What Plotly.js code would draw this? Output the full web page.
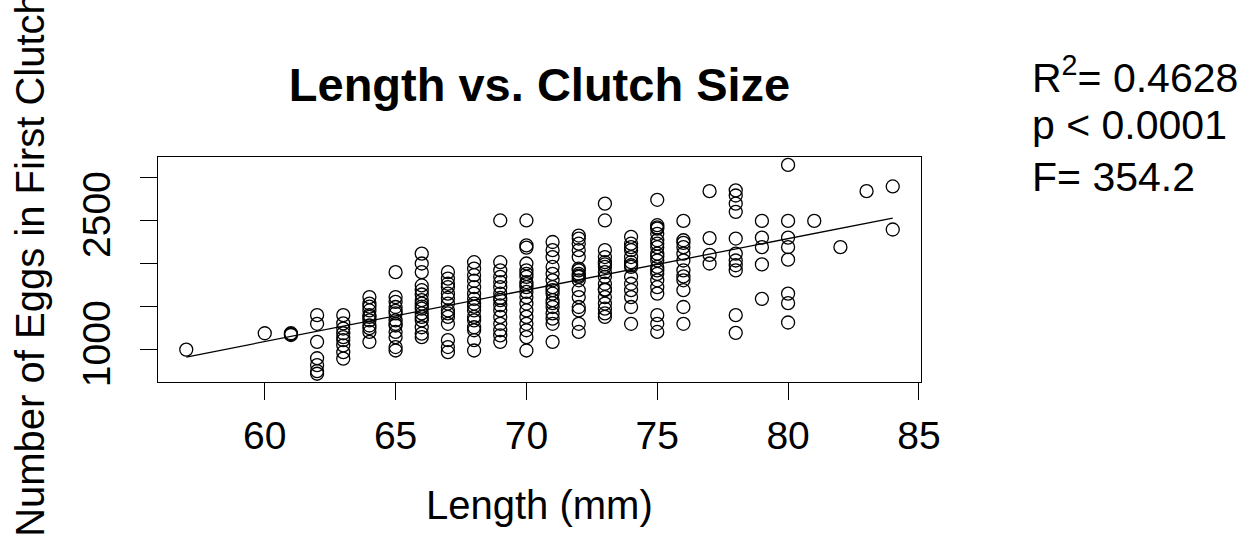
<!DOCTYPE html>
<html>
<head>
<meta charset="utf-8">
<script src="https://cdn.plot.ly/plotly-3.0.1.min.js"></script>
<style>html,body{margin:0;padding:0;background:#fff;}#chart{width:1248px;height:539px;}</style>
</head>
<body>
<div id="chart"></div>
<script>
// Length (mm) values present in the data
const lengthValues = [57, 60, 61, 62, 63, 64, 65, 66, 67, 68, 69, 70, 71, 72, 73, 74, 75, 76, 77, 78, 79, 80, 81, 82, 83, 84];
// Number of eggs in first clutch, one list per length value
const eggsAtLength = [
  [1000],
  [1190],
  [1190, 1170, 1180],
  [1400, 1300, 1090, 900, 820, 750, 720],
  [1400, 1305, 1245, 1190, 1145, 1110, 1050, 970, 895],
  [1610, 1535, 1455, 1400, 1340, 1280, 1205, 1090, 1500, 1380, 1250],
  [1900, 1610, 1555, 1495, 1420, 1340, 1280, 1205, 1145, 1030, 990, 1450, 1300],
  [2115, 2000, 1900, 1745, 1690, 1575, 1535, 1475, 1420, 1340, 1260, 1185, 1145, 1640, 1500, 1380],
  [1900, 1825, 1765, 1725, 1650, 1535, 1455, 1420, 1380, 1300, 1110, 1030, 970, 1600],
  [2015, 1940, 1865, 1725, 1650, 1590, 1535, 1455, 1380, 1340, 1260, 1225, 1110, 990, 1800, 1500],
  [2500, 2015, 1920, 1845, 1785, 1725, 1650, 1575, 1515, 1455, 1380, 1300, 1225, 1165, 1090, 1600],
  [2500, 2210, 2185, 2000, 1920, 1845, 1785, 1725, 1670, 1610, 1535, 1455, 1380, 1300, 1225, 1145, 990, 1880, 1760],
  [2250, 2155, 2075, 1960, 1880, 1805, 1725, 1650, 1575, 1495, 1420, 1300, 1090, 1690, 1540, 1360],
  [2325, 2290, 2230, 2155, 2075, 1940, 1880, 1845, 1805, 1690, 1610, 1495, 1455, 1300, 1205, 1920, 1860],
  [2695, 2500, 2155, 2075, 2015, 1960, 1900, 1845, 1765, 1690, 1610, 1535, 1475, 1420, 1380, 1990, 1700],
  [2310, 2230, 2155, 2075, 2015, 1960, 1845, 1765, 1690, 1610, 1495, 1300, 2190, 1980],
  [2740, 2445, 2405, 2345, 2270, 2190, 2115, 2035, 1960, 1880, 1805, 1725, 1650, 1400, 1300, 1205, 2420, 2230, 2080, 1920],
  [2495, 2270, 2190, 2115, 2035, 1920, 1805, 1690, 1495, 1300, 2240, 1850],
  [2840, 2295, 2100, 2000],
  [2850, 2790, 2695, 2600, 2290, 2115, 2035, 1980, 1920, 1400, 1195],
  [2495, 2300, 2190, 1990, 1590],
  [3145, 2495, 2300, 2190, 2045, 1650, 1540, 1315],
  [2495],
  [2190],
  [2840],
  [2895, 2395]
];
// fitted regression line end points
const fitLength = [57, 84];
const fitEggs = [914, 2528];
// axis ticks
const yTickVals = [1000, 1500, 2000, 2500, 3000];
const yTickText = ['1000', '', '', '2500', ''];
const xTickVals = [60, 65, 70, 75, 80, 85];
// statistics text
const statLines = ['R<sup>2</sup>= 0.4628', 'p &lt; 0.0001', 'F= 354.2'];

const xs = [], ys = [];
lengthValues.forEach((L, i) => {
  eggsAtLength[i].forEach(v => { xs.push(L); ys.push(v); });
});

const FONT = 'Liberation Sans, Arial, Helvetica, sans-serif';

const traces = [
  {
    x: xs, y: ys, type: 'scatter', mode: 'markers',
    marker: {symbol: 'circle-open', size: 13, color: 'black', line: {width: 1.3, color: 'black'}},
    hoverinfo: 'x+y'
  },
  {
    x: fitLength, y: fitEggs, type: 'scatter', mode: 'lines',
    line: {color: 'black', width: 1.3}
  }
];

const statY = [1.365, 1.143, 0.913];
const annotations = statLines.map((t, i) => ({
  text: t, xref: 'paper', yref: 'paper', x: 1.1429, y: statY[i],
  xanchor: 'left', yanchor: 'middle', showarrow: false,
  font: {family: FONT, size: 41, color: 'black'}
}));
annotations.push({
  text: 'Length (mm)', xref: 'paper', yref: 'paper', x: 0.5, y: -0.5467,
  xanchor: 'center', yanchor: 'middle', showarrow: false,
  font: {family: FONT, size: 40, color: 'black'}
});
annotations.push({
  text: 'Number of Eggs in First Clutch', xref: 'paper', yref: 'paper', x: -0.1678, y: 0.525,
  xanchor: 'center', yanchor: 'middle', showarrow: false, textangle: -90,
  font: {family: FONT, size: 40, color: 'black'}
});

const layout = {
  width: 1248, height: 539,
  margin: {l: 158, r: 327, t: 157, b: 157, pad: 0},
  paper_bgcolor: 'white', plot_bgcolor: 'white',
  showlegend: false,
  title: {
    text: '<b>Length vs. Clutch Size</b>',
    font: {family: FONT, size: 47, color: 'black'},
    x: 0.5, xref: 'paper', xanchor: 'center',
    y: 1 - 85 / 539, yref: 'container', yanchor: 'middle'
  },
  xaxis: {
    range: [55.92, 85.08], tickvals: xTickVals, ticks: 'outside', ticklen: 17, tickwidth: 1,
    tickcolor: 'black', showline: true, mirror: true, linecolor: 'black', linewidth: 1,
    showgrid: false, zeroline: false, ticklabelstandoff: 2,
    tickfont: {family: FONT, size: 39, color: 'black'}
  },
  yaxis: {
    range: [624, 3237], tickvals: yTickVals, ticktext: yTickText, tickangle: -90,
    ticks: 'outside', ticklen: 17, tickwidth: 1, tickcolor: 'black',
    showline: true, mirror: true, linecolor: 'black', linewidth: 1,
    showgrid: false, zeroline: false, ticklabelstandoff: 14,
    tickfont: {family: FONT, size: 39, color: 'black'}
  },
  annotations: annotations
};

Plotly.newPlot('chart', traces, layout, {displayModeBar: false, staticPlot: true});
</script>
</body>
</html>
